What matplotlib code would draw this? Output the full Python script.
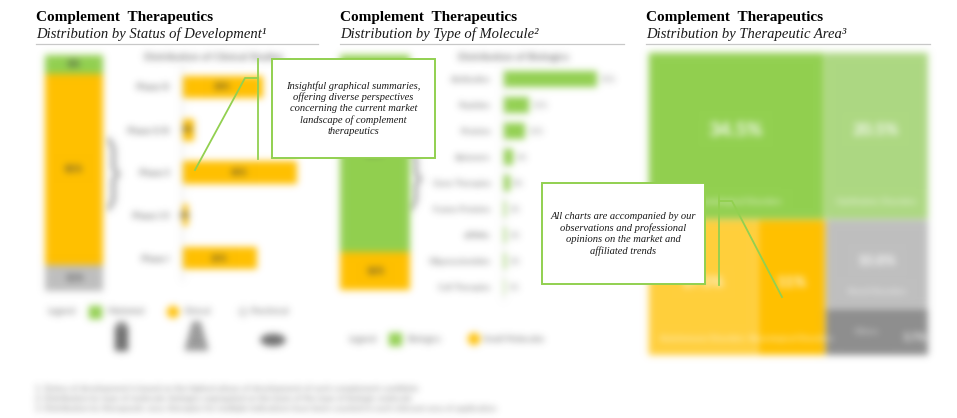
import numpy as np
import matplotlib
matplotlib.use("Agg")
import matplotlib.pyplot as plt
from matplotlib.patches import Rectangle, Ellipse, Polygon, Circle

# ---------------- data ----------------
status_labels = ["Marketed", "Clinical", "Preclinical"]
status_share = [8, 81, 11]

phase_labels = ["Phase III", "Phase II/III", "Phase II", "Phase I/II", "Phase I"]
phase_share = [28, 4, 40, 2, 26]

molecule_types = ["Biologics", "Small Molecules"]
molecule_share = [84, 16]

biologic_labels = ["Antibodies", "Peptides", "Proteins", "Aptamers", "Gene Therapies",
                   "Fusion Proteins", "siRNAs", "Oligonucleotides", "Cell Therapies"]
biologic_share = [55, 15, 13, 6, 4, 2, 2, 2, 1]

area_labels = ["Hematological Disorders", "Ophthalmic Disorders", "Autoimmune Disorders",
               "Neurological Disorders", "Renal Disorders", "Others"]
area_share = [34.5, 20.5, 17.5, 11.0, 10.8, 5.7]

titles = ["Complement  Therapeutics"] * 3
subtitles = ["Distribution by Status of Development\u00b9",
             "Distribution by Type of Molecule\u00b2",
             "Distribution by Therapeutic Area\u00b3"]
callouts = ["Insightful graphical summaries,\noffering diverse perspectives\nconcerning the current market\nlandscape of complement\ntherapeutics",
            "All charts are accompanied by our\nobservations and professional\nopinions on the market and\naffiliated trends"]
footnotes = ["1. Status of development is based on the highest phase of development of each complement candidate",
             "2. Distribution by type of molecule; biologics segregated on the basis of the type of biologic molecule",
             "3. Distribution by therapeutic area; therapies for multiple indications have been counted in each relevant area of application"]

# ---------------- style ----------------
GREEN = "#92D050"
LGREEN = "#ADD882"
YELLOW = "#FFC000"
LYELLOW = "#FFCF3C"
GRAY = "#BFBFBF"
DGRAY = "#8E8E8E"
TXT = "#595959"
SANS = "Lato"
SERIF = "Liberation Serif"

W, H, DPI = 957, 418, 100


def _blur1d(p, k, axis):
    r = len(k) // 2
    n = p.shape[axis]
    padw = [(r, r) if ax == axis else (0, 0) for ax in range(p.ndim)]
    q = np.pad(p, padw)
    out = np.zeros_like(p)
    for i, w in enumerate(k):
        sl = [slice(None)] * p.ndim
        sl[axis] = slice(i, i + n)
        out += w * q[tuple(sl)]
    return out


class Blur:
    def __init__(self, sigma):
        self.sigma = sigma

    def __call__(self, im, dpi):
        s = self.sigma * dpi / 100.0
        r = int(np.ceil(3 * s))
        a = np.pad(im, ((r, r), (r, r), (0, 0)))
        al = a[..., 3:4]
        p = np.concatenate([a[..., :3] * al, al], axis=2)
        xs = np.arange(-r, r + 1)
        k = np.exp(-xs ** 2 / (2 * s * s))
        k /= k.sum()
        p = _blur1d(p, k, 0)
        p = _blur1d(p, k, 1)
        al = p[..., 3:4]
        rgb = p[..., :3] / np.maximum(al, 1e-6)
        out = np.concatenate([np.clip(rgb, 0, 1), np.clip(al, 0, 1)], axis=2)
        return out, -r, -r


BLUR = Blur(3.6)

fig = plt.figure(figsize=(W / DPI, H / DPI), dpi=DPI)
fig.patch.set_facecolor("white")


def px_axes(x0, y0, x1, y1, **kw):
    return fig.add_axes([x0 / W, 1 - y1 / H, (x1 - x0) / W, (y1 - y0) / H], **kw)


def pixel_space(ax):
    ax.set_xlim(0, W)
    ax.set_ylim(H, 0)
    ax.axis("off")


# decoration layer (blurred)
deco = px_axes(0, 0, W, H, zorder=-1)
pixel_space(deco)
deco.set_agg_filter(BLUR)

# ---------------- panel 1 ----------------
ax1s = px_axes(45, 55, 103, 291)
bottom = 0
seg_cols = {"Marketed": GREEN, "Clinical": YELLOW, "Preclinical": GRAY}
for lab, v in reversed(list(zip(status_labels, status_share))):
    ax1s.bar(0, v, bottom=bottom, width=1.0, color=seg_cols[lab], linewidth=0)
    ax1s.text(0, bottom + v / 2, f"{v}%", ha="center", va="center",
              fontsize=6.5, color="#404040", family=SANS, fontweight="bold")
    bottom += v
ax1s.set_xlim(-0.5, 0.5)
ax1s.set_ylim(0, sum(status_share))
ax1s.axis("off")
ax1s.set_agg_filter(BLUR)

ax1h = px_axes(182, 65.5, 326, 279.5)
ax1h.set_facecolor("none")
ypos = np.arange(len(phase_labels))
ax1h.barh(ypos, phase_share, height=0.52, color=YELLOW, linewidth=0)
for y, v in zip(ypos, phase_share):
    ax1h.text(v / 2, y, f"{v}%", ha="center", va="center", fontsize=6,
              color="#404040", family=SANS, fontweight="bold")
ax1h.set_xlim(0, 50)
ax1h.set_ylim(len(phase_labels) - 0.5, -0.5)
ax1h.set_yticks(ypos, phase_labels, fontsize=6.5, color=TXT, family=SANS)
ax1h.set_xticks([])
ax1h.tick_params(axis="y", length=0, pad=9)
for s in ["top", "right", "bottom"]:
    ax1h.spines[s].set_visible(False)
ax1h.spines["left"].set_color("#D9D9D9")
ax1h.set_agg_filter(BLUR)

deco.text(214, 58, "Distribution of Clinical Studies", ha="center", va="center",
          fontsize=7.4, fontweight="bold", color="#6F6F6F", family=SANS)

# ---------------- panel 2 ----------------
ax2s = px_axes(340, 55, 410, 290)
bottom = 0
mol_cols = {"Biologics": GREEN, "Small Molecules": YELLOW}
for lab, v in reversed(list(zip(molecule_types, molecule_share))):
    ax2s.bar(0, v, bottom=bottom, width=1.0, color=mol_cols[lab], linewidth=0)
    ax2s.text(0, bottom + v / 2, f"{v}%", ha="center", va="center",
              fontsize=6.5, color="#404040", family=SANS, fontweight="bold")
    bottom += v
ax2s.set_xlim(-0.5, 0.5)
ax2s.set_ylim(0, sum(molecule_share))
ax2s.axis("off")
ax2s.set_agg_filter(BLUR)

ax2h = px_axes(503, 66, 623, 300)
ax2h.set_facecolor("none")
ypos2 = np.arange(len(biologic_labels))
ax2h.barh(ypos2, biologic_share, height=0.58, color=GREEN, linewidth=0)
for y, v in zip(ypos2, biologic_share):
    ax2h.text(v + 2, y, f"{v}%", ha="left", va="center", fontsize=5.5,
              color="#7F7F7F", family=SANS)
ax2h.set_xlim(0, 70)
ax2h.set_ylim(len(biologic_labels) - 0.5, -0.5)
ax2h.set_yticks(ypos2, biologic_labels, fontsize=6, color=TXT, family=SANS)
ax2h.set_xticks([])
ax2h.tick_params(axis="y", length=0, pad=9)
for s in ["top", "right", "bottom"]:
    ax2h.spines[s].set_visible(False)
ax2h.spines["left"].set_color("#E3E3E3")
ax2h.set_agg_filter(BLUR)

deco.text(514, 58, "Distribution of Biologics", ha="center", va="center",
          fontsize=7.4, fontweight="bold", color="#6F6F6F", family=SANS)

# ---------------- panel 3 : treemap ----------------
ax3 = px_axes(648, 52, 928, 355)
total = sum(area_share)
top_sum = area_share[0] + area_share[1]
bot_sum = total - top_sum
h_top = top_sum / total
cells = []
x = 0.0
for v in area_share[:2]:
    w = v / top_sum
    cells.append((x, 0.0, w, h_top))
    x += w
x = 0.0
for v in area_share[2:4]:
    w = v / bot_sum
    cells.append((x, h_top, w, 1 - h_top))
    x += w
grp = area_share[4] + area_share[5]
gw = grp / bot_sum
y = h_top
for v in area_share[4:]:
    hh = v / grp * (1 - h_top)
    cells.append((x, y, gw, hh))
    y += hh
tm_cols = [GREEN, LGREEN, LYELLOW, YELLOW, GRAY, DGRAY]
num_sizes = [14, 12, 11, 11, 10, 8]
for (cx, cy, cw, ch), col, lab, v, fs in zip(cells, tm_cols, area_labels, area_share, num_sizes):
    ax3.add_patch(Rectangle((cx, cy), cw, ch, facecolor=col, edgecolor="white", linewidth=0.4))
    if ch > 0.2:
        ax3.text(cx + cw / 2, cy + ch * 0.47, f"{v:g}%", ha="center", va="center",
                 fontsize=fs, fontweight="bold", color="white", family=SANS)
        ax3.text(cx + cw / 2, cy + ch - 0.055, lab, ha="center", va="center",
                 fontsize=6, color="white", family=SANS)
    else:
        ax3.text(cx + cw * 0.4, cy + ch / 2, lab, ha="center", va="center",
                 fontsize=6, color="#E8E8E8", family=SANS)
        ax3.text(cx + cw * 0.87, cy + ch * 0.62, f"{v:g}%", ha="center", va="center",
                 fontsize=fs, fontweight="bold", color="white", family=SANS)
ax3.set_xlim(0, 1)
ax3.set_ylim(1, 0)
ax3.axis("off")
ax3.set_agg_filter(BLUR)


# ---------------- decorations (blurred) ----------------
def brace(x0, y0, y1, dx=9):
    ym = (y0 + y1) / 2
    xs = [x0, x0 + dx * 0.5, x0 + dx * 0.5, x0 + dx, x0 + dx * 0.5, x0 + dx * 0.5, x0]
    ys = [y0, y0 + 8, ym - 6, ym, ym + 6, y1 - 8, y1]
    deco.plot(xs, ys, color="#B5B5B5", lw=4, solid_joinstyle="round", solid_capstyle="round")


brace(109, 140, 208)
brace(411, 150, 208)

# legend panel 1
LEG = "#707070"
deco.text(47, 312, "Legend:", fontsize=6.2, color=LEG, family=SANS, va="center")
deco.add_patch(Rectangle((89, 306), 12, 12, color=GREEN))
deco.text(107, 312, status_labels[0], fontsize=6.2, color=LEG, family=SANS, va="center")
deco.add_patch(Circle((173, 312), 5.5, color=YELLOW))
deco.text(184, 312, status_labels[1], fontsize=6.2, color=LEG, family=SANS, va="center")
deco.add_patch(Circle((243, 312), 3.5, facecolor="white", edgecolor="#A6A6A6", lw=1))
deco.text(250, 312, status_labels[2], fontsize=6.2, color=LEG, family=SANS, va="center")
# icons
deco.add_patch(Rectangle((115, 326), 12, 24, color="#6E6E6E"))
deco.add_patch(Rectangle((117, 322), 8, 5, color="#8A8A8A"))
deco.add_patch(Polygon([(193, 322), (200, 322), (208, 350), (185, 350)], closed=True, color="#9A9A9A"))
deco.add_patch(Ellipse((273, 340), 24, 11, color="#6E6E6E"))

# legend panel 2
deco.text(348, 339, "Legend:", fontsize=6.2, color=LEG, family=SANS, va="center")
deco.add_patch(Rectangle((389, 333), 12, 12, color=GREEN))
deco.text(407, 339, molecule_types[0], fontsize=6.2, color=LEG, family=SANS, va="center")
deco.add_patch(Circle((474, 339), 5.5, color=YELLOW))
deco.text(483, 339, molecule_types[1], fontsize=6.2, color=LEG, family=SANS, va="center")

# footnotes
for i, t in enumerate(footnotes):
    deco.text(35, 389 + i * 9.5, t, fontsize=6.1, color="#6A6A6A", family=SANS, va="center")

# ---------------- sharp layer: titles, rules, callouts ----------------
top = px_axes(0, 0, W, H, zorder=10)
pixel_space(top)
panel_x = [36, 340, 646]
rule_end = [318, 624, 930]
for px, re_, t, st in zip(panel_x, rule_end, titles, subtitles):
    top.text(px, 21, t, fontsize=11, fontweight="bold", family=SERIF, color="black", va="baseline")
    top.text(px, 38, st, fontsize=10.5, style="italic", family=SERIF, color="#1A1A1A", va="baseline")
    top.plot([px, re_], [43.5, 43.5], color="#C8C8C8", lw=0.9)

# callout 1
top.plot([258, 258], [59, 159], color=GREEN, lw=1.3)
top.plot([195, 245, 258], [170, 78, 78], color=GREEN, lw=1.3)
top.add_patch(Rectangle((272, 59), 163, 99, facecolor="white", edgecolor=GREEN, lw=1.4))
top.text(353.5, 108.5, callouts[0], ha="center", va="center", fontsize=7.6, style="italic",
         family=SERIF, color="#1A1A1A", linespacing=1.27)

# callout 2
top.plot([719, 719], [192, 285], color=GREEN, lw=1.3)
top.plot([719, 732, 782], [201, 201, 297], color=GREEN, lw=1.3)
top.add_patch(Rectangle((542, 183), 163, 101, facecolor="white", edgecolor=GREEN, lw=1.4))
top.text(623.5, 234, callouts[1], ha="center", va="center", fontsize=7.6, style="italic",
         family=SERIF, color="#1A1A1A", linespacing=1.27)

fig.savefig("out.png", dpi=DPI, facecolor="white")
